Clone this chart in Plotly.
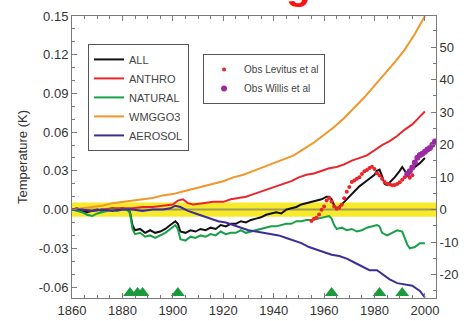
import plotly.graph_objects as go

# ---------------- data ----------------
all_years = [1860, 1862, 1864, 1866, 1868, 1870, 1872, 1874, 1876, 1878, 1880, 1882, 1883, 1884, 1885,
             1887, 1889, 1891, 1893, 1895, 1897, 1899, 1901, 1902, 1903, 1905, 1907, 1909, 1911, 1913,
             1915, 1917, 1919, 1921, 1923, 1925, 1927, 1929, 1931, 1933, 1935, 1937, 1939, 1941, 1943,
             1945, 1947, 1949, 1951, 1953, 1955, 1957, 1959, 1961, 1962, 1963, 1964, 1965, 1966, 1968,
             1970, 1972, 1974, 1976, 1978, 1980, 1981, 1982, 1983, 1984, 1985, 1986, 1988, 1990, 1991,
             1992, 1993, 1994, 1996, 1998, 2000]
all_vals = [0.000, 0.001, -0.001, -0.002, -0.001, 0.000, -0.001, 0.000, 0.001, 0.000, 0.001, 0.000, -0.002,
            -0.012, -0.016, -0.015, -0.018, -0.016, -0.018, -0.017, -0.015, -0.012, -0.009, -0.011, -0.017,
            -0.018, -0.016, -0.017, -0.015, -0.016, -0.014, -0.015, -0.012, -0.013, -0.011, -0.011, -0.009,
            -0.010, -0.008, -0.007, -0.006, -0.004, -0.003, -0.002, -0.003, 0.000, 0.001, 0.002, 0.004,
            0.005, 0.006, 0.007, 0.008, 0.010, 0.010, 0.008, 0.003, 0.001, 0.002, 0.006, 0.010, 0.014,
            0.018, 0.021, 0.024, 0.027, 0.030, 0.031, 0.026, 0.020, 0.019, 0.021, 0.025, 0.030, 0.033,
            0.030, 0.028, 0.030, 0.033, 0.036, 0.040]

anthro_years = [1860, 1864, 1868, 1872, 1876, 1880, 1884, 1888, 1892, 1896, 1900, 1902, 1904, 1906, 1908,
                1912, 1916, 1920, 1923, 1926, 1929, 1932, 1935, 1938, 1941, 1944, 1947, 1950, 1953, 1956,
                1959, 1962, 1965, 1968, 1971, 1974, 1977, 1980, 1983, 1986, 1989, 1992, 1995, 1998, 2000]
anthro_vals = [0.000, 0.000, -0.001, 0.000, 0.001, 0.001, 0.001, 0.002, 0.002, 0.003, 0.004, 0.007, 0.008,
               0.005, 0.004, 0.005, 0.006, 0.006, 0.008, 0.009, 0.010, 0.012, 0.014, 0.016, 0.018, 0.020,
               0.022, 0.025, 0.027, 0.028, 0.030, 0.032, 0.033, 0.035, 0.038, 0.040, 0.042, 0.046, 0.050,
               0.053, 0.057, 0.062, 0.066, 0.072, 0.076]

natural_years = [1860, 1862, 1864, 1866, 1868, 1870, 1872, 1874, 1876, 1878, 1880, 1882, 1883, 1884, 1885,
                 1887, 1889, 1891, 1893, 1895, 1897, 1899, 1901, 1902, 1903, 1905, 1907, 1909, 1911, 1913,
                 1915, 1917, 1919, 1921, 1923, 1925, 1927, 1929, 1931, 1933, 1935, 1937, 1939, 1941, 1943,
                 1945, 1947, 1949, 1951, 1953, 1955, 1957, 1959, 1961, 1962, 1963, 1964, 1965, 1967, 1969,
                 1971, 1973, 1975, 1977, 1979, 1981, 1982, 1983, 1985, 1987, 1989, 1991, 1992, 1993, 1994,
                 1996, 1998, 2000]
natural_vals = [0.000, -0.001, -0.002, -0.004, -0.005, -0.003, -0.002, -0.001, 0.000, -0.001, 0.000, 0.000,
                -0.003, -0.015, -0.019, -0.018, -0.021, -0.020, -0.022, -0.020, -0.018, -0.015, -0.012,
                -0.015, -0.023, -0.024, -0.021, -0.022, -0.020, -0.021, -0.019, -0.020, -0.017, -0.019,
                -0.018, -0.018, -0.016, -0.018, -0.017, -0.016, -0.015, -0.014, -0.013, -0.013, -0.012,
                -0.011, -0.011, -0.009, -0.009, -0.008, -0.008, -0.007, -0.006, -0.005, -0.005, -0.007,
                -0.012, -0.015, -0.014, -0.016, -0.015, -0.017, -0.016, -0.014, -0.013, -0.012, -0.013,
                -0.018, -0.020, -0.018, -0.016, -0.017, -0.022, -0.027, -0.030, -0.029, -0.026, -0.026]

wmggo3_years = [1860, 1864, 1868, 1872, 1876, 1880, 1884, 1888, 1892, 1896, 1900, 1904, 1908, 1912, 1916,
                1920, 1924, 1928, 1932, 1936, 1940, 1944, 1948, 1952, 1956, 1960, 1964, 1968, 1972, 1976,
                1980, 1984, 1988, 1992, 1996, 2000]
wmggo3_vals = [0.000, 0.001, 0.002, 0.003, 0.005, 0.006, 0.007, 0.008, 0.009, 0.011, 0.012, 0.014, 0.016,
               0.018, 0.020, 0.022, 0.025, 0.027, 0.030, 0.033, 0.036, 0.039, 0.042, 0.047, 0.052, 0.058,
               0.064, 0.071, 0.079, 0.087, 0.096, 0.105, 0.114, 0.124, 0.136, 0.150]

aerosol_years = [1860, 1864, 1868, 1872, 1876, 1880, 1884, 1888, 1892, 1896, 1899, 1901, 1903, 1906, 1909,
                 1912, 1915, 1918, 1921, 1924, 1927, 1930, 1933, 1936, 1939, 1942, 1945, 1948, 1951, 1954,
                 1957, 1960, 1963, 1966, 1969, 1972, 1975, 1978, 1981, 1983, 1986, 1989, 1992, 1995, 1998,
                 2000]
aerosol_vals = [0.000, 0.000, -0.001, 0.000, -0.001, 0.000, 0.000, -0.001, 0.000, 0.000, 0.001, 0.003, 0.002,
                -0.001, -0.003, -0.005, -0.007, -0.009, -0.010, -0.012, -0.014, -0.016, -0.017, -0.018,
                -0.019, -0.020, -0.022, -0.024, -0.026, -0.029, -0.031, -0.033, -0.035, -0.036, -0.038,
                -0.041, -0.044, -0.047, -0.047, -0.050, -0.054, -0.057, -0.058, -0.059, -0.063, -0.068]

levitus_years = list(range(1955, 1996))
levitus_vals = [-3.5, -2.8, -2.5, -1.5, 0.0, 1.0, 2.8, 3.6, 2.5, 1.0, 0.3, 0.6, 1.5, 3.5, 5.5, 7.0, 8.5,
                9.0, 9.5, 10.0, 11.0, 11.8, 12.2, 12.8, 13.2, 12.5, 11.2, 10.5, 9.5, 8.5, 8.0, 7.8, 7.5,
                7.6, 7.9, 8.4, 9.2, 10.0, 10.5, 9.8, 10.6]

willis_years = list(range(1993, 2005))
willis_vals = [11.0, 11.8, 13.0, 14.5, 16.0, 16.8, 17.2, 17.8, 18.5, 19.0, 20.0, 21.0]

volcano_years = [1883, 1886, 1888, 1902, 1963, 1982, 1991]
volcano_level = -0.0646

left_ticks = [0.15, 0.12, 0.09, 0.06, 0.03, 0.00, -0.03, -0.06]
left_labels = ["0.15", "0.12", "0.09", "0.06", "0.03", "0.00", "-0.03", "-0.06"]
right_ticks = [50, 40, 30, 20, 10, 0, -10, -20]
right_labels = ["50", "40", "30", "20", "10", "0", "-10", "-20"]
x_ticks = [1860, 1880, 1900, 1920, 1940, 1960, 1980, 2000]
band_half = 0.0055

# ---------------- figure ----------------
FONT = "Liberation Sans, Arial, sans-serif"
fig = go.Figure()

series = [
    ("ALL", all_years, all_vals, "#111111"),
    ("ANTHRO", anthro_years, anthro_vals, "#e8262b"),
    ("NATURAL", natural_years, natural_vals, "#17a047"),
    ("WMGGO3", wmggo3_years, wmggo3_vals, "#f0962a"),
    ("AEROSOL", aerosol_years, aerosol_vals, "#3b2f95"),
]
for name, xs, ys, col in series:
    fig.add_trace(go.Scatter(x=xs, y=ys, mode="lines", name=name,
                             line=dict(color=col, width=2), legend="legend"))

fig.add_trace(go.Scatter(x=levitus_years, y=levitus_vals, yaxis="y2", mode="markers",
                         name="Obs Levitus et al", marker=dict(color="#e8262b", size=4),
                         legend="legend2"))
fig.add_trace(go.Scatter(x=willis_years, y=willis_vals, yaxis="y2", mode="markers",
                         name="Obs Willis et al", marker=dict(color="#9b2aa3", size=6),
                         legend="legend2"))

fig.add_trace(go.Scatter(x=volcano_years, y=[volcano_level] * len(volcano_years), mode="markers",
                         showlegend=False, cliponaxis=False,
                         marker=dict(symbol="triangle-up", size=12, color="#1a9a3c")))

# yellow zero band and zero line
fig.add_shape(type="rect", xref="paper", x0=0, x1=1, yref="y", y0=-band_half, y1=band_half,
              fillcolor="#f7ea2a", line=dict(width=0), layer="below")
fig.add_shape(type="line", xref="paper", x0=0, x1=1, yref="y", y0=0, y1=0,
              line=dict(color="#a39a55", width=2), layer="below")

axis_common = dict(showgrid=False, zeroline=False, showline=True, linecolor="#7a7a7a", linewidth=1,
                   ticks="inside", tickcolor="#7a7a7a", ticklen=5, automargin=False)
tick_font = dict(family=FONT, size=13, color="#333333")

fig.update_layout(
    width=466, height=321,
    margin=dict(l=72, r=30, t=16, b=23, autoexpand=False),
    paper_bgcolor="white", plot_bgcolor="white",
    xaxis=dict(range=[1860, 2004.4], tickvals=x_ticks, mirror="ticks", tickfont=tick_font,
               minor=dict(dtick=5, tick0=1860, ticks="inside", ticklen=3, tickcolor="#7a7a7a"),
               **axis_common),
    yaxis=dict(range=[-0.0685, 0.15], tickvals=left_ticks, ticktext=left_labels, tickfont=tick_font,
               minor=dict(dtick=0.01, tick0=0, ticks="inside", ticklen=3, tickcolor="#7a7a7a"),
               title=dict(text="Temperature (K)", standoff=8,
                          font=dict(family=FONT, size=13, color="#333333")),
               **axis_common),
    yaxis2=dict(range=[-27.2, 59.6], tickvals=right_ticks, ticktext=right_labels,
                overlaying="y", side="right",
                tickfont=dict(family=FONT, size=13, color="#333333"),
                minor=dict(dtick=5, tick0=0, ticks="inside", ticklen=3, tickcolor="#7a7a7a"),
                **axis_common),
    legend=dict(x=0.044, y=0.901, xanchor="left", yanchor="top", bgcolor="white",
                bordercolor="#555555", borderwidth=1,
                font=dict(family=FONT, size=11, color="#444444"), tracegroupgap=0),
    legend2=dict(x=0.36, y=0.865, xanchor="left", yanchor="top", bgcolor="white",
                 bordercolor="#555555", borderwidth=1,
                 font=dict(family=FONT, size=10, color="#444444")),
    annotations=[dict(text="<b>Warming</b>", xref="paper", yref="paper", x=0.424, y=1.024,
                      xanchor="center", yanchor="bottom", showarrow=False,
                      font=dict(family=FONT, size=40, color="#ff1010"))],
)

fig.write_html("out.html", config={"displayModeBar": False},
               post_script="document.body.style.margin='0';document.body.style.overflow='hidden';")
